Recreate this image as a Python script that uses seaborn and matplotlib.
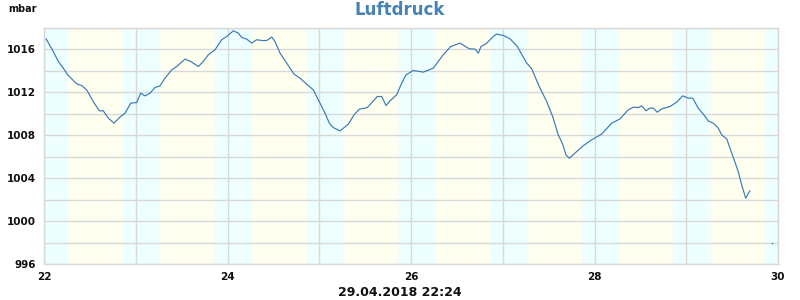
import numpy as np
import pandas as pd
import matplotlib
matplotlib.use("Agg")
import matplotlib.pyplot as plt
from matplotlib.ticker import MultipleLocator
import seaborn as sns

# ---- data (day of month, pressure in mbar) ----
days = [22.022, 22.101, 22.156, 22.210, 22.258, 22.356, 22.411, 22.465, 22.537, 22.603,
        22.646, 22.701, 22.763, 22.828, 22.883, 22.945, 23.010, 23.054, 23.101, 23.155,
        23.210, 23.264, 23.319, 23.392, 23.446, 23.537, 23.599, 23.682, 23.736, 23.791,
        23.864, 23.937, 23.991, 24.063, 24.118, 24.155, 24.209, 24.264, 24.318, 24.373,
        24.427, 24.482, 24.518, 24.572, 24.645, 24.725, 24.790, 24.863, 24.935, 24.990,
        25.063, 25.110, 25.153, 25.226, 25.317, 25.379, 25.437, 25.524, 25.583, 25.633,
        25.681, 25.728, 25.771, 25.844, 25.899, 25.946, 26.025, 26.134, 26.243, 26.345,
        26.433, 26.534, 26.635, 26.698, 26.733, 26.763, 26.817, 26.897, 26.934, 27.006,
        27.079, 27.159, 27.261, 27.315, 27.398, 27.479, 27.544, 27.605, 27.653, 27.689,
        27.725, 27.806, 27.878, 27.969, 28.078, 28.187, 28.278, 28.368, 28.423, 28.477,
        28.514, 28.561, 28.605, 28.641, 28.684, 28.732, 28.823, 28.896, 28.961, 29.022,
        29.070, 29.131, 29.186, 29.240, 29.295, 29.349, 29.386, 29.441, 29.513, 29.567,
        29.604, 29.648, 29.695]
pressure = [1016.95, 1015.77, 1014.84, 1014.22, 1013.60, 1012.76, 1012.60, 1012.20, 1011.11, 1010.25,
            1010.25, 1009.57, 1009.10, 1009.66, 1010.03, 1010.96, 1011.02, 1011.89, 1011.64, 1011.89,
            1012.42, 1012.57, 1013.29, 1014.06, 1014.37, 1015.06, 1014.84, 1014.37, 1014.84, 1015.46,
            1015.93, 1016.86, 1017.16, 1017.69, 1017.48, 1017.07, 1016.92, 1016.55, 1016.86, 1016.79,
            1016.79, 1017.11, 1016.70, 1015.62, 1014.69, 1013.66, 1013.29, 1012.73, 1012.20, 1011.27,
            1010.03, 1009.10, 1008.69, 1008.38, 1009.01, 1009.87, 1010.40, 1010.55, 1011.11, 1011.58,
            1011.58, 1010.74, 1011.18, 1011.74, 1012.82, 1013.60, 1014.00, 1013.85, 1014.22, 1015.39,
            1016.23, 1016.55, 1016.02, 1015.99, 1015.62, 1016.23, 1016.48, 1017.16, 1017.39, 1017.26,
            1016.95, 1016.23, 1014.69, 1014.16, 1012.51, 1011.11, 1009.72, 1008.01, 1007.15, 1006.15,
            1005.84, 1006.46, 1007.01, 1007.55, 1008.08, 1009.10, 1009.50, 1010.34, 1010.59, 1010.55,
            1010.71, 1010.25, 1010.50, 1010.50, 1010.12, 1010.43, 1010.65, 1011.06, 1011.64, 1011.43,
            1011.43, 1010.50, 1009.94, 1009.31, 1009.10, 1008.64, 1008.01, 1007.64, 1005.90, 1004.59,
            1003.36, 1002.12, 1002.82]
current_day = [29.938]
current_value = [997.93]

x_ticks = [22, 24, 26, 28, 30]
y_ticks = [996, 1000, 1004, 1008, 1012, 1016]
title = "Luftdruck"
unit = "mbar"
stamp = "29.04.2018 22:24"

# twilight (fraction of day)
dawn_start, dawn_end = 0.25, 0.285
dusk_start, dusk_end = 0.845, 0.875

df = pd.DataFrame({"day": days, "mbar": pressure})

sns.set_theme(style="white")
plt.rcParams["font.family"] = ["DejaVu Sans"]

fig = plt.figure(figsize=(8, 3), dpi=100)
ax = fig.add_axes([44 / 800, 36 / 300, 734 / 800, 236.5 / 300])

# day / night background
xmin, xmax, ymin, ymax = 22, 30, 996, 1018
xs = np.linspace(xmin, xmax, 3000)
f = xs % 1.0
night = np.ones_like(f)
night[(f >= dawn_end) & (f <= dusk_start)] = 0.0
m = (f > dawn_start) & (f < dawn_end)
night[m] = 1 - (f[m] - dawn_start) / (dawn_end - dawn_start)
m = (f > dusk_start) & (f < dusk_end)
night[m] = (f[m] - dusk_start) / (dusk_end - dusk_start)
cyan = np.array([238, 255, 255]) / 255
yellow = np.array([255, 255, 240]) / 255
cols = night[:, None] * cyan + (1 - night[:, None]) * yellow
ax.imshow(cols[None, :, :], extent=[xmin, xmax, ymin, ymax], aspect="auto",
          zorder=0, interpolation="bilinear")

sns.lineplot(data=df, x="day", y="mbar", ax=ax, color="#3a78b8", linewidth=0.85, zorder=3)
ax.scatter(current_day, current_value, s=1.2, color="#3a78b8", zorder=3, linewidths=0)

ax.set_xlim(xmin, xmax)
ax.set_ylim(ymin, ymax)
ax.set_xticks(x_ticks)
ax.set_yticks(y_ticks)
ax.xaxis.set_minor_locator(MultipleLocator(1))
ax.yaxis.set_minor_locator(MultipleLocator(2))
ax.grid(True, which="both", color="#d8d8d8", linewidth=1.0, zorder=1)
ax.set_axisbelow(False)
for gl in ax.get_xgridlines() + ax.get_ygridlines():
    gl.set_zorder(1)
ax.tick_params(which="both", length=0)
ax.tick_params(axis="x", pad=6)
ax.tick_params(axis="y", pad=6)
for lab in ax.get_xticklabels() + ax.get_yticklabels():
    lab.set_fontsize(7.5)
    lab.set_fontweight("bold")
    lab.set_color("#111111")
for s in ax.spines.values():
    s.set_color("#d8d8d8")
    s.set_linewidth(1.0)
ax.set_xlabel("")
ax.set_ylabel("")

fig.text(0.5, 1 - 10 / 300, title, ha="center", va="center", fontsize=12,
         fontweight="bold", color="#4682b4")
fig.text(8 / 800, 1 - 9 / 300, unit, ha="left", va="center", fontsize=7,
         fontweight="bold", color="#111111")
fig.text(0.5, 1 - 292 / 300, stamp, ha="center", va="center", fontsize=9,
         fontweight="bold", color="#111111")

fig.savefig("out.png", dpi=100)
